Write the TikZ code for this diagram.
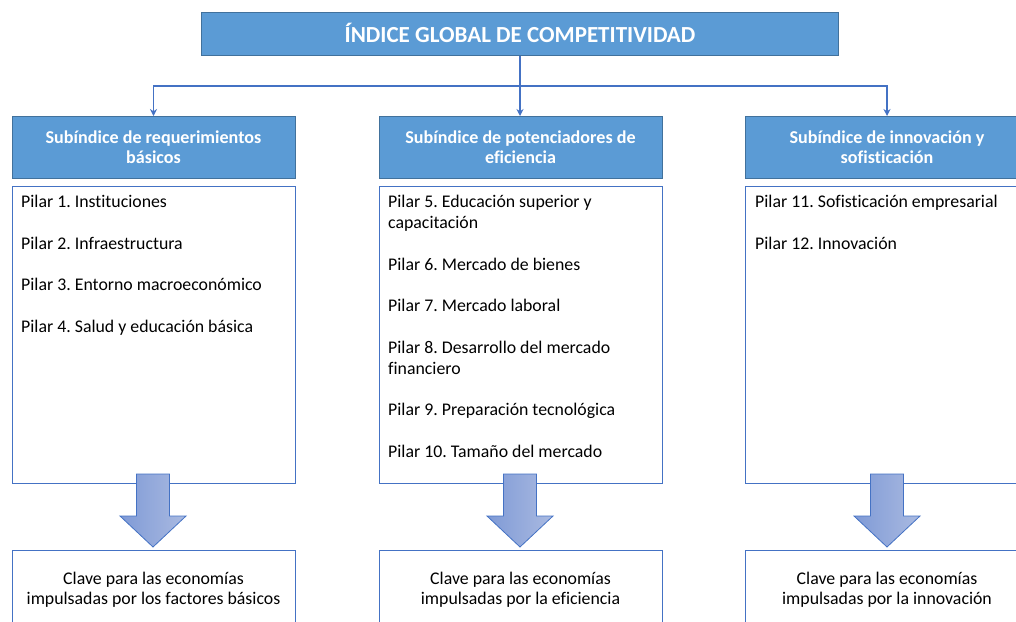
\documentclass[tikz,border=0pt]{standalone}
\usepackage{fontspec}
\setmainfont{Carlito}[Ligatures=CommonOff]
\usetikzlibrary{arrows.meta}
\definecolor{hdrfill}{HTML}{5B9BD5}
\definecolor{hdrdraw}{HTML}{41719C}
\definecolor{lineblue}{HTML}{4472C4}
\definecolor{arrL}{HTML}{7F9AD6}
\definecolor{arrR}{HTML}{AABAE1}
\frenchspacing
\begin{document}
\begin{tikzpicture}[x=1pt,y=-1pt,
  hdr/.style={draw=hdrdraw, fill=hdrfill, line width=1pt, inner sep=0pt},
  hdrtxt/.style={text=white, font=\fontsize{18.1}{21}\selectfont\bfseries, anchor=base, inner sep=0pt},
  titletxt/.style={text=white, font=\fontsize{23}{27}\selectfont\bfseries, anchor=base, inner sep=0pt},
  tbox/.style={draw=lineblue, line width=0.9pt, fill=white, inner sep=0pt},
  piltxt/.style={font=\fontsize{17.8}{21}\selectfont, anchor=base west, inner sep=0pt},
  keytxt/.style={font=\fontsize{17.8}{21}\selectfont, anchor=base, inner sep=0pt},
  conn/.style={draw=lineblue, line width=1.3pt, -{Stealth[length=7pt,width=7pt]}},
  bigarrow/.style={draw=lineblue, line width=0.8pt, left color=arrL, right color=arrR},
]
\useasboundingbox (0,0) rectangle (1016,621);
\clip (0,0) rectangle (1016,621);

% title
\node[hdr, minimum width=637pt, minimum height=43pt] (title) at (520,33.5) {};
\node[titletxt] (titletext) at (520,42) {ÍNDICE GLOBAL DE COMPETITIVIDAD};

% subindex headers
\node[hdr, minimum width=283pt, minimum height=62pt] (s1) at (153.5,147.5) {};
\node[hdr, minimum width=283pt, minimum height=62pt] (s2) at (520.5,147.5) {};
\node[hdr, minimum width=283pt, minimum height=62pt] (s3) at (887,147.5) {};
\node[hdrtxt] (s1a) at (153.5,143) {Subíndice de requerimientos};
\node[hdrtxt] (s1b) at (153.5,163.5) {básicos};
\node[hdrtxt] (s2a) at (520.5,143) {Subíndice de potenciadores de};
\node[hdrtxt] (s2b) at (520.5,163.5) {eficiencia};
\node[hdrtxt] (s3a) at (887,143) {Subíndice de innovación y};
\node[hdrtxt] (s3b) at (887,163.5) {sofisticación};

% connectors
\coordinate (bus) at (520,86);
\draw[conn] (title.south) -- (title.south |- s2.north);
\draw[conn] (bus) -| (s1.north);
\draw[conn] (bus) -| (s3.north);

% pillar boxes
\node[tbox, minimum width=283pt, minimum height=297pt] (b1) at (153.5,334.5) {};
\node[tbox, minimum width=283pt, minimum height=297pt] (b2) at (520.5,334.5) {};
\node[tbox, minimum width=283pt, minimum height=297pt] (b3) at (887,334.5) {};

\node[piltxt] (p1) at (21,207.5) {Pilar 1. Instituciones};
\node[piltxt] (p2) at (21,249) {Pilar 2. Infraestructura};
\node[piltxt] (p3) at (21,290.5) {Pilar 3. Entorno macroeconómico};
\node[piltxt] (p4) at (21,332) {Pilar 4. Salud y educación básica};

\node[piltxt] (p5a) at (388,207.5) {Pilar 5. Educación superior y};
\node[piltxt] (p5b) at (388,228.5) {capacitación};
\node[piltxt] (p6) at (388,270) {Pilar 6. Mercado de bienes};
\node[piltxt] (p7) at (388,311.5) {Pilar 7. Mercado laboral};
\node[piltxt] (p8a) at (388,353) {Pilar 8. Desarrollo del mercado};
\node[piltxt] (p8b) at (388,374) {financiero};
\node[piltxt] (p9) at (388,415.5) {Pilar 9. Preparación tecnológica};
\node[piltxt] (p10) at (388,457) {Pilar 10. Tamaño del mercado};

\node[piltxt] (p11) at (755,207.5) {Pilar 11. Sofisticación empresarial};
\node[piltxt] (p12) at (755,249) {Pilar 12. Innovación};

% key boxes
\node[tbox, minimum width=283pt, minimum height=100pt] (k1) at (153.5,600) {};
\node[tbox, minimum width=283pt, minimum height=100pt] (k2) at (520.5,600) {};
\node[tbox, minimum width=283pt, minimum height=100pt] (k3) at (887,600) {};
\node[keytxt] (k1a) at (153.5,584) {Clave para las economías};
\node[keytxt] (k1b) at (153.5,604.5) {impulsadas por los factores básicos};
\node[keytxt] (k2a) at (520.5,584) {Clave para las economías};
\node[keytxt] (k2b) at (520.5,604.5) {impulsadas por la eficiencia};
\node[keytxt] (k3a) at (887,584) {Clave para las economías};
\node[keytxt] (k3b) at (887,604.5) {impulsadas por la innovación};

% block arrows
\foreach \cx in {153,520,887}{
  \path[bigarrow] (\cx-16.5,474) -- (\cx+16.5,474) -- (\cx+16.5,516) -- (\cx+33,516)
    -- (\cx,547) -- (\cx-33,516) -- (\cx-16.5,516) -- cycle;
}
\end{tikzpicture}
\end{document}
